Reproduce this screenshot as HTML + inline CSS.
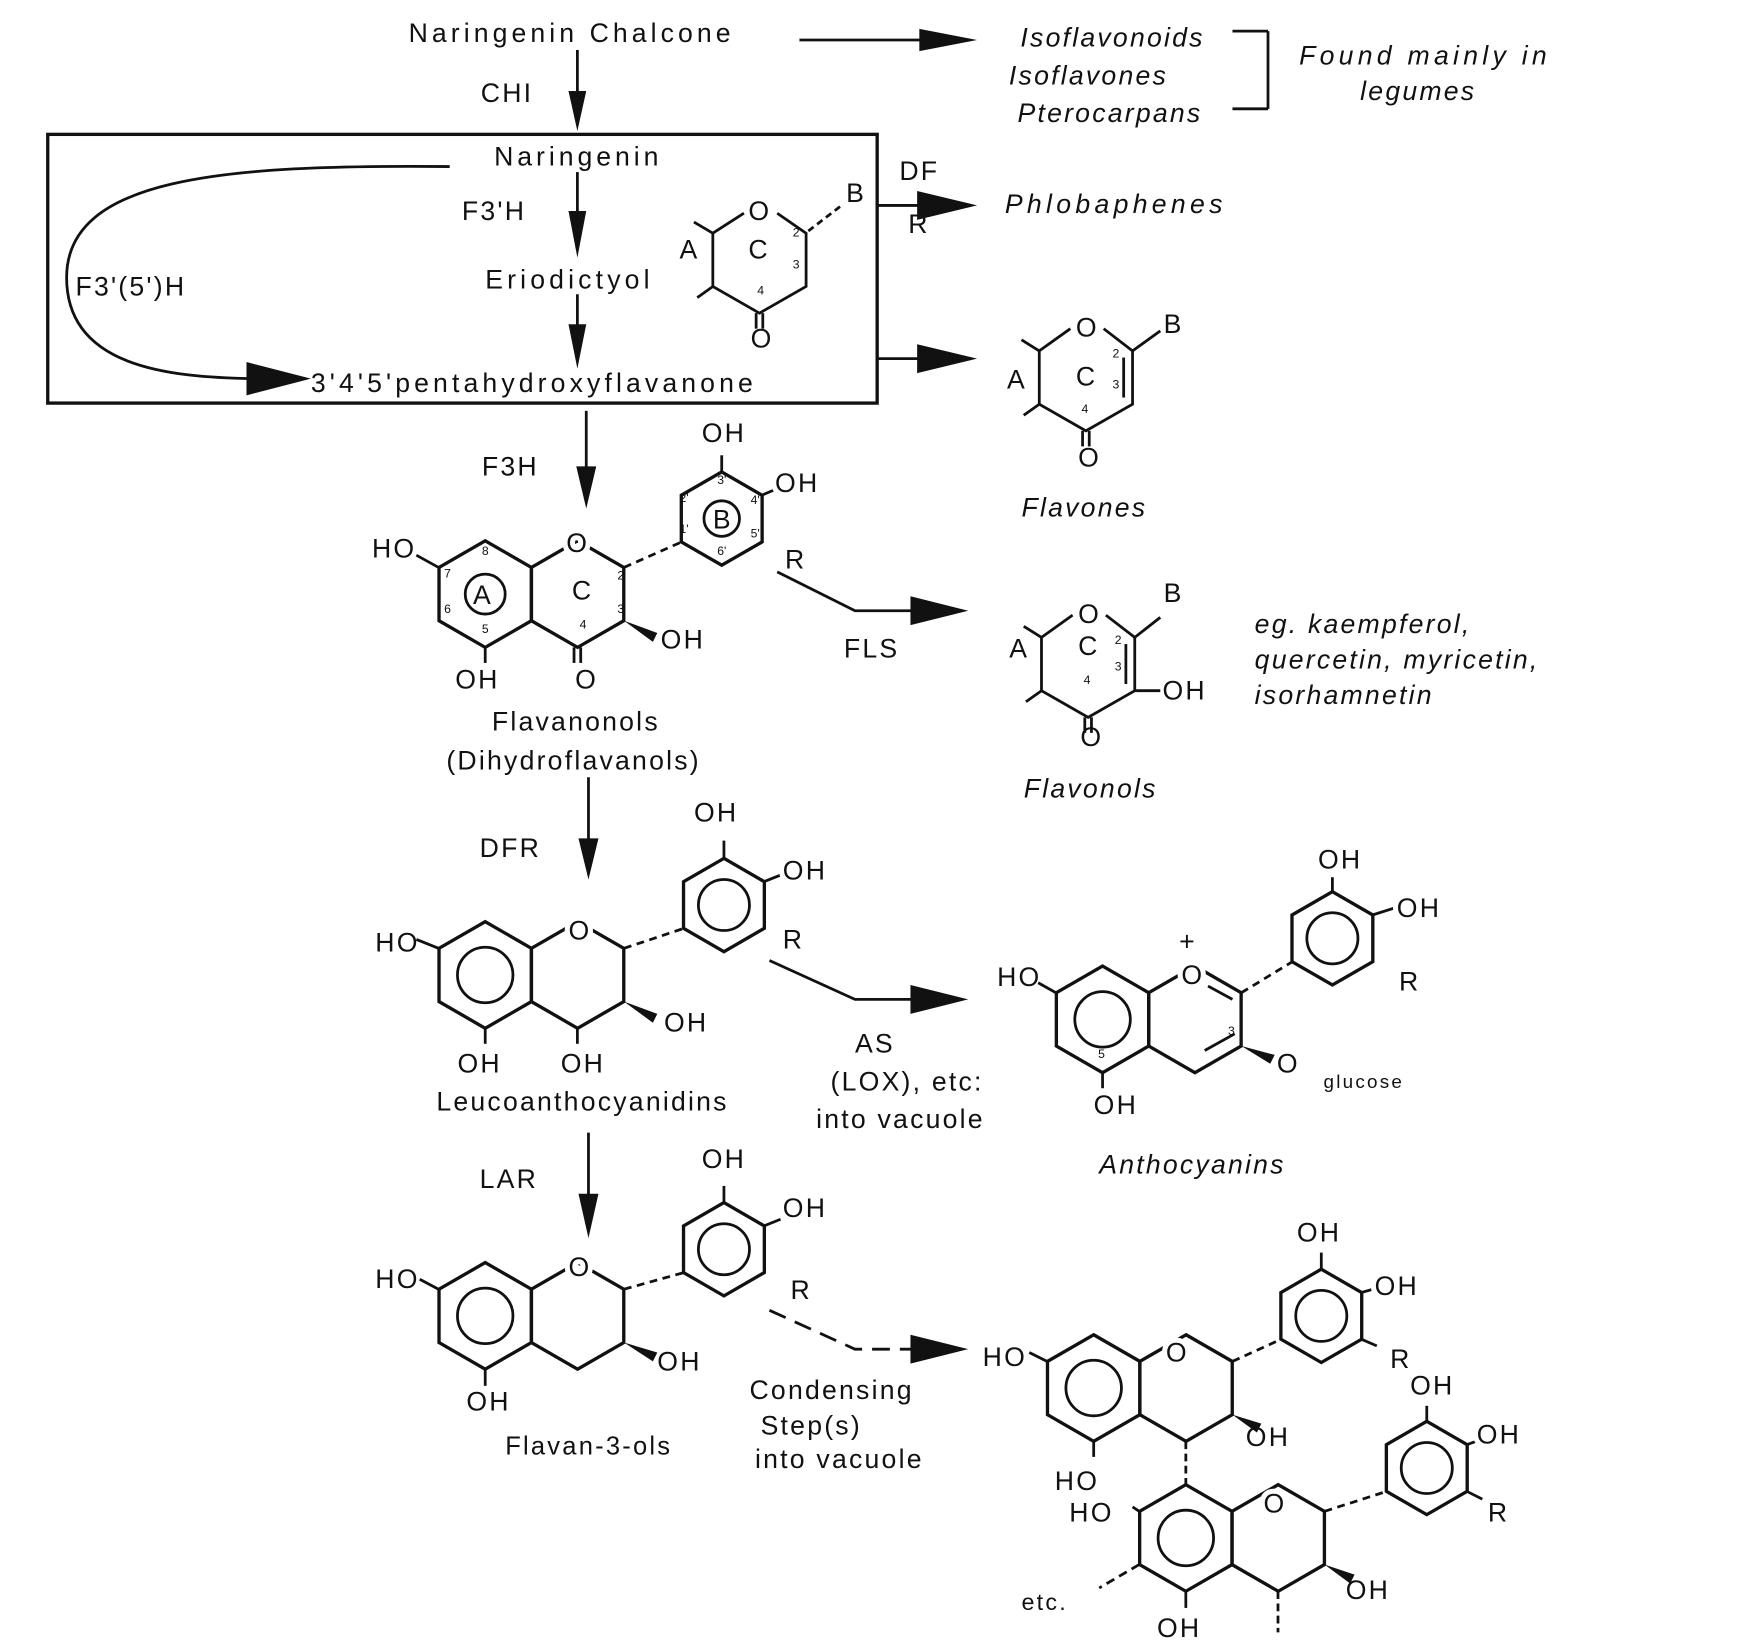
<!DOCTYPE html>
<html><head><meta charset="utf-8"><style>
html,body{margin:0;padding:0;background:#fff;}
svg{display:block;}
text{font-family:"Liberation Sans",sans-serif;fill:#111;}
.t{font-size:24px;letter-spacing:2px;}
.i{font-size:24px;letter-spacing:2px;font-style:italic;}
.s{font-size:11px;}
.w{stroke:#fff;stroke-width:9px;paint-order:stroke;stroke-linejoin:round;}
</style></head><body>
<svg width="1741" height="1649" viewBox="0 0 1568 1485" preserveAspectRatio="none" xmlns="http://www.w3.org/2000/svg">
<defs>
<polygon id="h" points="0,-48 41.6,-24 41.6,24 0,48 -41.6,24 -41.6,-24" fill="none" stroke="#111" stroke-width="3"/>
<polygon id="hb" points="0,-42 36.4,-21 36.4,21 0,42 -36.4,21 -36.4,-21" fill="none" stroke="#111" stroke-width="3"/>
</defs>
<g stroke="#111" stroke-width="2.5" fill="none">
<line x1="720" y1="36" x2="840" y2="36"/>
<line x1="520" y1="45" x2="520" y2="85"/>
<line x1="1110" y1="28" x2="1142" y2="28"/><line x1="1142" y1="28" x2="1142" y2="98"/><line x1="1110" y1="98" x2="1142" y2="98"/>
<rect x="43" y="121" width="747" height="242" stroke-width="3"/>
<line x1="520" y1="155" x2="520" y2="195"/>
<line x1="520" y1="265" x2="520" y2="300"/>
<path d="M405,150 C200,148 60,160 60,250 C60,330 150,340 230,341"/>
<line x1="790" y1="185" x2="830" y2="185"/>
<line x1="790" y1="323" x2="830" y2="323"/>
<line x1="528" y1="370" x2="528" y2="425"/>
<path d="M700,515 L770,550 L825,550"/>
<line x1="530" y1="700" x2="530" y2="760"/>
<path d="M693,865 L770,900 L825,900"/>
<line x1="530" y1="1020" x2="530" y2="1080"/>
<path d="M693,1180 L770,1215 L825,1215" stroke-dasharray="16,9"/>
</g>
<g fill="#111">
<polygon points="828,26 880,36 828,46"/>
<polygon points="512,82 528,82 520,118"/>
<polygon points="512,190 528,190 520,232"/>
<polygon points="512,292 528,292 520,332"/>
<polygon points="222,326 280,341 222,356"/>
<polygon points="826,172 880,185 826,198"/>
<polygon points="826,310 880,323 826,336"/>
<polygon points="519,420 537,420 528,458"/>
<polygon points="820,537 872,550 820,563"/>
<polygon points="521,755 539,755 530,792"/>
<polygon points="820,887 872,900 820,913"/>
<polygon points="521,1075 539,1075 530,1115"/>
<polygon points="820,1202 872,1215 820,1228"/>
</g>
<text class="t" x="368" y="38" textLength="292">Naringenin Chalcone</text>
<text class="t" x="433" y="92">CHI</text>
<text class="i" x="1085" y="42" text-anchor="end">Isoflavonoids</text>
<text class="i" x="1052" y="76" text-anchor="end">Isoflavones</text>
<text class="i" x="1083" y="110" text-anchor="end">Pterocarpans</text>
<text class="i" x="1170" y="58" textLength="225">Found mainly in</text>
<text class="i" x="1225" y="90">legumes</text>
<text class="t" x="445" y="149" textLength="150">Naringenin</text>
<text class="t" x="416" y="198">F3'H</text>
<text class="t" x="437" y="260" textLength="150">Eriodictyol</text>
<text class="t" x="280" y="353" textLength="400">3'4'5'pentahydroxyflavanone</text>
<text class="t" x="68" y="266">F3'(5')H</text>
<text class="t" x="810" y="162">DF</text>
<text class="t" x="818" y="210">R</text>
<text class="i" x="905" y="192" textLength="198">Phlobaphenes</text>
<g stroke="#111" stroke-width="2.5" fill="none">
<polyline points="670,192 642,210 642,258 684,282 726,258 726,210 700,192"/>
<line x1="642" y1="210" x2="625" y2="200"/><line x1="642" y1="258" x2="628" y2="268"/>
<line x1="681" y1="282" x2="681" y2="296"/><line x1="687" y1="282" x2="687" y2="296"/>
<line x1="728" y1="208" x2="758" y2="185" stroke-dasharray="6,4"/>
</g>
<text class="t" x="674" y="198">O</text><text class="t" x="762" y="182">B</text>
<text class="t" x="612" y="233">A</text><text class="t" x="674" y="233">C</text>
<text class="t" x="676" y="313">O</text>
<text class="s" x="714" y="213">2</text><text class="s" x="714" y="242">3</text><text class="s" x="682" y="265">4</text>
<g stroke="#111" stroke-width="2.5" fill="none">
<polyline points="964,296 936,316 936,364 978,388 1020,364 1020,316 994,296"/>
<line x1="936" y1="316" x2="920" y2="306"/><line x1="936" y1="364" x2="922" y2="374"/>
<line x1="1012" y1="322" x2="1012" y2="358"/>
<line x1="975" y1="388" x2="975" y2="402"/><line x1="981" y1="388" x2="981" y2="402"/>
<line x1="1020" y1="316" x2="1045" y2="298"/>
</g>
<text class="t" x="969" y="303">O</text><text class="t" x="1048" y="300">B</text>
<text class="t" x="907" y="350">A</text><text class="t" x="969" y="347">C</text>
<text class="t" x="971" y="420">O</text>
<text class="s" x="1002" y="322">2</text><text class="s" x="1002" y="350">3</text><text class="s" x="974" y="372">4</text>
<text class="i" x="920" y="465">Flavones</text>
<g stroke="#111" stroke-width="2.5" fill="none">
<polyline points="966,554 938,574 938,622 980,646 1022,622 1022,574 996,554"/>
<line x1="938" y1="574" x2="922" y2="564"/><line x1="938" y1="622" x2="924" y2="632"/>
<line x1="1014" y1="580" x2="1014" y2="616"/>
<line x1="977" y1="646" x2="977" y2="660"/><line x1="983" y1="646" x2="983" y2="660"/>
<line x1="1022" y1="574" x2="1045" y2="556"/><line x1="1022" y1="622" x2="1045" y2="622"/>
</g>
<text class="t" x="971" y="561">O</text><text class="t" x="1048" y="542">B</text>
<text class="t" x="909" y="592">A</text><text class="t" x="971" y="590">C</text>
<text class="t" x="1047" y="630">OH</text><text class="t" x="973" y="672">O</text>
<text class="s" x="1004" y="580">2</text><text class="s" x="1004" y="604">3</text><text class="s" x="976" y="616">4</text>
<text class="i" x="922" y="718">Flavonols</text>
<text class="i" x="1130" y="570">eg. kaempferol,</text>
<text class="i" x="1130" y="602">quercetin, myricetin,</text>
<text class="i" x="1130" y="634">isorhamnetin</text>
<text class="t" x="760" y="592">FLS</text>
<!-- Flavanonol -->
<use href="#h" x="437" y="535"/><use href="#h" x="520.2" y="535"/><use href="#hb" x="650" y="467"/>
<circle cx="437" cy="535" r="18" fill="none" stroke="#111" stroke-width="2.5"/>
<circle cx="650" cy="467" r="16" fill="none" stroke="#111" stroke-width="2.5"/>
<g stroke="#111" stroke-width="2.5"><line x1="395" y1="511" x2="375" y2="500"/><line x1="437" y1="583" x2="437" y2="597"/>
<line x1="517" y1="583" x2="517" y2="597"/><line x1="523" y1="583" x2="523" y2="597"/>
<line x1="562" y1="511" x2="614" y2="488" stroke-dasharray="7,5"/><line x1="650" y1="425" x2="650" y2="410"/><line x1="686" y1="446" x2="700" y2="440"/></g>
<polygon points="562,559 592,570 588,578" fill="#111"/>
<text class="t w" x="510" y="497">O</text>
<text class="t" x="335" y="502">HO</text><text class="t" x="426" y="544">A</text><text class="t" x="642" y="476">B</text><text class="t" x="515" y="540">C</text>
<text class="t" x="410" y="620">OH</text><text class="t" x="518" y="620">O</text><text class="t" x="595" y="584">OH</text>
<text class="t" x="632" y="398">OH</text><text class="t w" x="698" y="443">OH</text><text class="t" x="707" y="512">R</text>
<text class="s" x="400" y="520">7</text><text class="s" x="400" y="552">6</text><text class="s" x="434" y="500">8</text><text class="s" x="434" y="570">5</text>
<text class="s" x="556" y="522">2</text><text class="s" x="556" y="552">3</text><text class="s" x="522" y="566">4</text>
<text class="s" x="612" y="452">2'</text><text class="s" x="612" y="480">1'</text><text class="s" x="646" y="436">3'</text><text class="s" x="676" y="454">4'</text><text class="s" x="676" y="484">5'</text><text class="s" x="646" y="500">6'</text>
<text class="t" x="443" y="658">Flavanonols</text>
<text class="t" x="402" y="693">(Dihydroflavanols)</text>
<text class="t" x="434" y="428">F3H</text>
<!-- Leucoanthocyanidins -->
<use href="#h" x="437" y="878"/><use href="#h" x="520.2" y="878"/><use href="#hb" x="652" y="815"/>
<circle cx="437" cy="878" r="25" fill="none" stroke="#111" stroke-width="2.5"/>
<circle cx="652" cy="815" r="23" fill="none" stroke="#111" stroke-width="2.5"/>
<g stroke="#111" stroke-width="2.5"><line x1="395" y1="854" x2="375" y2="846"/><line x1="437" y1="926" x2="437" y2="940"/><line x1="520" y1="926" x2="520" y2="940"/>
<line x1="562" y1="854" x2="616" y2="836" stroke-dasharray="7,5"/><line x1="652" y1="773" x2="652" y2="757"/><line x1="688" y1="794" x2="703" y2="788"/></g>
<polygon points="562,902 592,913 588,921" fill="#111"/>
<text class="t w" x="512" y="846">O</text>
<text class="t" x="338" y="857">HO</text><text class="t" x="412" y="966">OH</text><text class="t" x="505" y="966">OH</text><text class="t" x="598" y="929">OH</text>
<text class="t" x="625" y="740">OH</text><text class="t w" x="705" y="792">OH</text><text class="t" x="705" y="854">R</text>
<text class="t" x="393" y="1000">Leucoanthocyanidins</text>
<text class="t" x="432" y="772">DFR</text>
<text class="t" x="770" y="948">AS</text><text class="t" x="748" y="982">(LOX), etc:</text><text class="t" x="735" y="1016">into vacuole</text>
<!-- Anthocyanins -->
<use href="#h" x="993" y="918"/><use href="#h" x="1076.2" y="918"/><use href="#hb" x="1200" y="845"/>
<circle cx="993" cy="918" r="25" fill="none" stroke="#111" stroke-width="2.5"/>
<circle cx="1200" cy="845" r="23" fill="none" stroke="#111" stroke-width="2.5"/>
<g stroke="#111" stroke-width="2.5"><line x1="951" y1="894" x2="935" y2="885"/><line x1="993" y1="966" x2="993" y2="980"/>
<line x1="1085" y1="946" x2="1112" y2="931"/><line x1="1088" y1="888" x2="1110" y2="900"/>
<line x1="1118" y1="894" x2="1164" y2="866" stroke-dasharray="7,5"/><line x1="1200" y1="803" x2="1200" y2="790"/><line x1="1236" y1="824" x2="1255" y2="818"/></g>
<polygon points="1118,942 1148,950 1144,958" fill="#111"/>
<text class="t w" x="1064" y="886">O</text><text class="t" x="1062" y="856">+</text>
<text class="t" x="898" y="888">HO</text><text class="t" x="985" y="1003">OH</text>
<text class="t w" x="1150" y="966">O</text><text x="1192" y="980" style="font-size:17px;letter-spacing:2px">glucose</text>
<text class="s" x="1106" y="932">3</text><text class="s" x="989" y="953">5</text>
<text class="t" x="1187" y="782">OH</text><text class="t w" x="1258" y="826">OH</text><text class="t" x="1260" y="892">R</text>
<text class="i" x="990" y="1057">Anthocyanins</text>
<!-- Flavan-3-ols -->
<use href="#h" x="437" y="1185"/><use href="#h" x="520.2" y="1185"/><use href="#hb" x="652" y="1125"/>
<circle cx="437" cy="1185" r="25" fill="none" stroke="#111" stroke-width="2.5"/>
<circle cx="652" cy="1125" r="23" fill="none" stroke="#111" stroke-width="2.5"/>
<g stroke="#111" stroke-width="2.5"><line x1="395" y1="1161" x2="378" y2="1152"/><line x1="437" y1="1233" x2="437" y2="1248"/>
<line x1="562" y1="1161" x2="616" y2="1146" stroke-dasharray="7,5"/><line x1="652" y1="1083" x2="652" y2="1068"/><line x1="688" y1="1104" x2="703" y2="1098"/></g>
<polygon points="562,1209 592,1218 588,1226" fill="#111"/>
<text class="t w" x="512" y="1149">O</text>
<text class="t" x="338" y="1160">HO</text><text class="t" x="420" y="1270">OH</text><text class="t" x="592" y="1234">OH</text>
<text class="t" x="632" y="1052">OH</text><text class="t w" x="705" y="1096">OH</text><text class="t" x="712" y="1170">R</text>
<text class="t" x="455" y="1310" style="font-size:23px">Flavan-3-ols</text>
<text class="t" x="432" y="1070">LAR</text>
<text class="t" x="675" y="1260">Condensing</text><text class="t" x="685" y="1292">Step(s)</text><text class="t" x="680" y="1322">into vacuole</text>
<!-- Procyanidin -->
<use href="#h" x="985" y="1250"/><use href="#h" x="1068.2" y="1250"/><use href="#hb" x="1190" y="1185"/>
<circle cx="985" cy="1250" r="25" fill="none" stroke="#111" stroke-width="2.5"/>
<circle cx="1190" cy="1185" r="23" fill="none" stroke="#111" stroke-width="2.5"/>
<use href="#h" x="1068" y="1385"/><use href="#h" x="1151.2" y="1385"/><use href="#hb" x="1285" y="1322"/>
<circle cx="1068" cy="1385" r="25" fill="none" stroke="#111" stroke-width="2.5"/>
<circle cx="1285" cy="1322" r="23" fill="none" stroke="#111" stroke-width="2.5"/>
<g stroke="#111" stroke-width="2.5">
<line x1="943" y1="1226" x2="927" y2="1218"/><line x1="985" y1="1298" x2="985" y2="1312"/>
<line x1="1110" y1="1226" x2="1154" y2="1206" stroke-dasharray="7,5"/><line x1="1190" y1="1143" x2="1190" y2="1128"/><line x1="1226" y1="1164" x2="1240" y2="1160"/><line x1="1226" y1="1206" x2="1240" y2="1212"/>
<line x1="1068" y1="1298" x2="1068" y2="1337" stroke-dasharray="7,4"/>
<line x1="1026" y1="1409" x2="990" y2="1430" stroke-dasharray="8,5"/><line x1="1068" y1="1433" x2="1068" y2="1448"/>
<line x1="1151" y1="1433" x2="1151" y2="1470" stroke-dasharray="7,4"/>
<line x1="1193" y1="1361" x2="1249" y2="1343" stroke-dasharray="7,5"/><line x1="1285" y1="1280" x2="1285" y2="1266"/><line x1="1321" y1="1301" x2="1335" y2="1296"/><line x1="1321" y1="1343" x2="1335" y2="1350"/>
<line x1="1026" y1="1361" x2="1020" y2="1357"/>
</g>
<polygon points="1110,1274 1136,1282 1132,1290" fill="#111"/>
<polygon points="1193,1409 1220,1418 1216,1426" fill="#111"/>
<text class="t w" x="1050" y="1226">O</text><text class="t w" x="1138" y="1362">O</text>
<text class="t" x="885" y="1230">HO</text><text class="t" x="950" y="1342">HO</text><text class="t" x="963" y="1370">HO</text>
<text class="t" x="1122" y="1302">OH</text><text class="t" x="1168" y="1118">OH</text><text class="t w" x="1238" y="1166">OH</text><text class="t" x="1252" y="1232">R</text>
<text class="t" x="1270" y="1256">OH</text><text class="t w" x="1330" y="1300">OH</text><text class="t" x="1340" y="1370">R</text>
<text class="t" x="1212" y="1440">OH</text><text class="t" x="1042" y="1474">OH</text>
<text class="t" x="920" y="1450" style="font-size:21px">etc.</text>
</svg>
</body></html>
